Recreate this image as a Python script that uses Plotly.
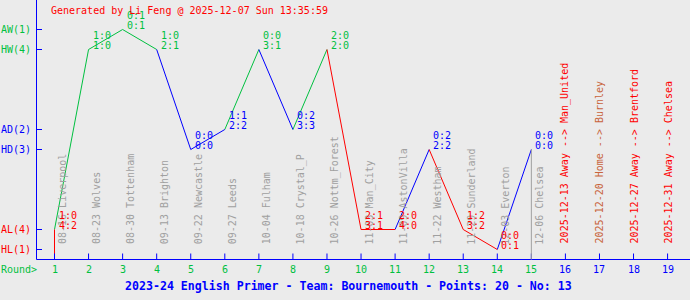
import plotly.graph_objects as go

# ---------------- data ----------------
rounds = list(range(1, 16))
dates = ["08-16", "08-23", "08-30", "09-13", "09-22", "09-27", "10-04", "10-18",
         "10-26", "11-03", "11-09", "11-22", "11-29", "12-03", "12-06"]
opponents = ["Liverpool", "Wolves", "Tottenham", "Brighton", "Newcastle", "Leeds",
             "Fulham", "Crystal_P", "Nottm_Forest", "Man_City", "AstonVilla",
             "Westham", "Sunderland", "Everton", "Chelsea"]
venues = ["A", "H", "A", "H", "H", "A", "H", "A", "H", "A", "A", "H", "A", "H", "H"]
results = ["L", "W", "W", "W", "D", "D", "W", "D", "W", "L", "L", "D", "L", "L", "D"]
half_time = ["1:0", "1:0", "0:1", "1:0", "0:0", "1:1", "0:0", "0:2", "2:0", "2:1",
             "2:0", "0:2", "1:2", "0:0", "0:0"]
full_time = ["4:2", "1:0", "0:1", "2:1", "0:0", "2:2", "3:1", "3:3", "2:0", "3:1",
             "4:0", "2:2", "3:2", "0:1", "0:0"]

future_rounds = [16, 17, 18, 19]
future_dates = ["2025-12-13", "2025-12-20", "2025-12-27", "2025-12-31"]
future_venues = ["Away", "Home", "Away", "Away"]
future_opponents = ["Man_United", "Burnley", "Brentford", "Chelsea"]

level_codes = ["AW", "HW", "AD", "HD", "AL", "HL"]
level_values = [11.5, 10.5, 6.5, 5.5, 1.5, 0.5]
level_labels = ["AW(1)", "HW(4)", "AD(2)", "HD(3)", "AL(4)", "HL(1)"]
all_rounds = list(range(1, 20))

title_top = "Generated by Li Feng @ 2025-12-07 Sun 13:35:59"
title_bottom = "2023-24 English Primer - Team: Bournemouth - Points: 20 - No: 13"

# ---------------- styles ----------------
GREEN = "#00c040"
BLUE = "#0000ff"
RED = "#ff0000"
GRAY = "#a0a0a0"
BROWN = "#c8643c"
BG = "#ebebeb"
FONT = "DejaVu Sans Mono"
res_color = {"W": GREEN, "D": BLUE, "L": RED}
level_map = dict(zip(level_codes, level_values))
level_color = {"W": GREEN, "D": BLUE, "L": RED}

ys = [level_map[v + r] for v, r in zip(venues, results)]

fig = go.Figure()

# line segments coloured by the result of the destination match
seg = {c: ([], []) for c in res_color.values()}
px_, py_ = rounds[0], 0
for x, y, r in zip(rounds, ys, results):
    c = res_color[r]
    seg[c][0].extend([px_, x, None])
    seg[c][1].extend([py_, y, None])
    px_, py_ = x, y

# axes as shapes
X0 = 0.4716
shapes = []
shapes.append(dict(type="line", x0=X0, x1=20, y0=0, y1=0, line=dict(color=BLUE, width=1)))
shapes.append(dict(type="line", x0=X0, x1=X0, y0=0, y1=13, line=dict(color=BLUE, width=1)))
for v in level_values:
    shapes.append(dict(type="line", x0=X0, x1=0.633, y0=v, y1=v, line=dict(color=BLUE, width=1)))
for r in all_rounds:
    shapes.append(dict(type="line", x0=r, x1=r, y0=0, y1=0.3, line=dict(color=BLUE, width=1)))
# separator at last played round
shapes.append(dict(type="line", x0=rounds[-1], x1=rounds[-1], y0=0, y1=ys[-1],
                   line=dict(color=GRAY, width=1)))

annotations = []
# played match labels (gray, rotated)
for r, d, o in zip(rounds, dates, opponents):
    annotations.append(dict(x=r, y=0, text=f"{d} {o}", textangle=-90, showarrow=False,
                            xanchor="center", yanchor="bottom", xshift=8, yshift=13,
                            font=dict(family=FONT, size=10, color=GRAY)))
# future fixtures
for r, d, v, o in zip(future_rounds, future_dates, future_venues, future_opponents):
    annotations.append(dict(x=r, y=0, text=f"{d} {v} --> {o}", textangle=-90, showarrow=False,
                            xanchor="center", yanchor="bottom", xshift=0, yshift=14,
                            font=dict(family=FONT, size=10, color=RED if v == "Away" else BROWN)))
# score labels
for r, y, res, ht, ft in zip(rounds, ys, results, half_time, full_time):
    c = res_color[res]
    annotations.append(dict(x=r, y=y, text=ht, showarrow=False, xanchor="left", yanchor="middle",
                            xshift=3, yshift=14, borderpad=0,
                            font=dict(family=FONT, size=10, color=c)))
    annotations.append(dict(x=r, y=y, text=ft, showarrow=False, xanchor="left", yanchor="middle",
                            xshift=3, yshift=4.5, borderpad=0,
                            font=dict(family=FONT, size=10, color=c)))
# y labels
for v, lab, code in zip(level_values, level_labels, level_codes):
    col = {"W": GREEN, "D": BLUE, "L": RED}[code[1]]
    annotations.append(dict(x=X0, y=v, text=lab, showarrow=False, xanchor="right", yanchor="middle",
                            xshift=-5, borderpad=0, font=dict(family=FONT, size=10, color=col)))
# round numbers
for r in all_rounds:
    annotations.append(dict(x=r, y=0, text=str(r), showarrow=False, xanchor="center", yanchor="middle",
                            yshift=-10, borderpad=0,
                            font=dict(family=FONT, size=10, color=GREEN if r <= rounds[-1] else BLUE)))
annotations.append(dict(x=0, y=0, xref="paper", text="Round>", showarrow=False, xanchor="left",
                        yanchor="middle", yshift=-10, borderpad=0,
                        font=dict(family=FONT, size=10, color=GREEN)))
annotations.append(dict(x=50 / 690, y=1, xref="paper", yref="paper", text=title_top, showarrow=False,
                        xanchor="left", yanchor="middle", yshift=-10, borderpad=0,
                        font=dict(family=FONT, size=10, color=RED)))
annotations.append(dict(x=348 / 690, y=0, xref="paper", yref="paper", text=f"<b>{title_bottom}</b>",
                        showarrow=False, xanchor="center", yanchor="middle", yshift=14, borderpad=0,
                        font=dict(family=FONT, size=11.6, color=BLUE)))

for c, (xs_, ys_) in seg.items():
    fig.add_trace(go.Scatter(x=xs_, y=ys_, mode="lines", line=dict(color=c, width=1),
                             hoverinfo="skip", showlegend=False))

fig.update_layout(
    width=690, height=300, margin=dict(l=0, r=0, t=0, b=0),
    paper_bgcolor=BG, plot_bgcolor=BG, showlegend=False,
    xaxis=dict(range=[-0.6, 19.658], visible=False, fixedrange=True),
    yaxis=dict(range=[-2.025, 12.975], visible=False, fixedrange=True),
    shapes=shapes, annotations=annotations,
)
fig.write_html("out.html")
